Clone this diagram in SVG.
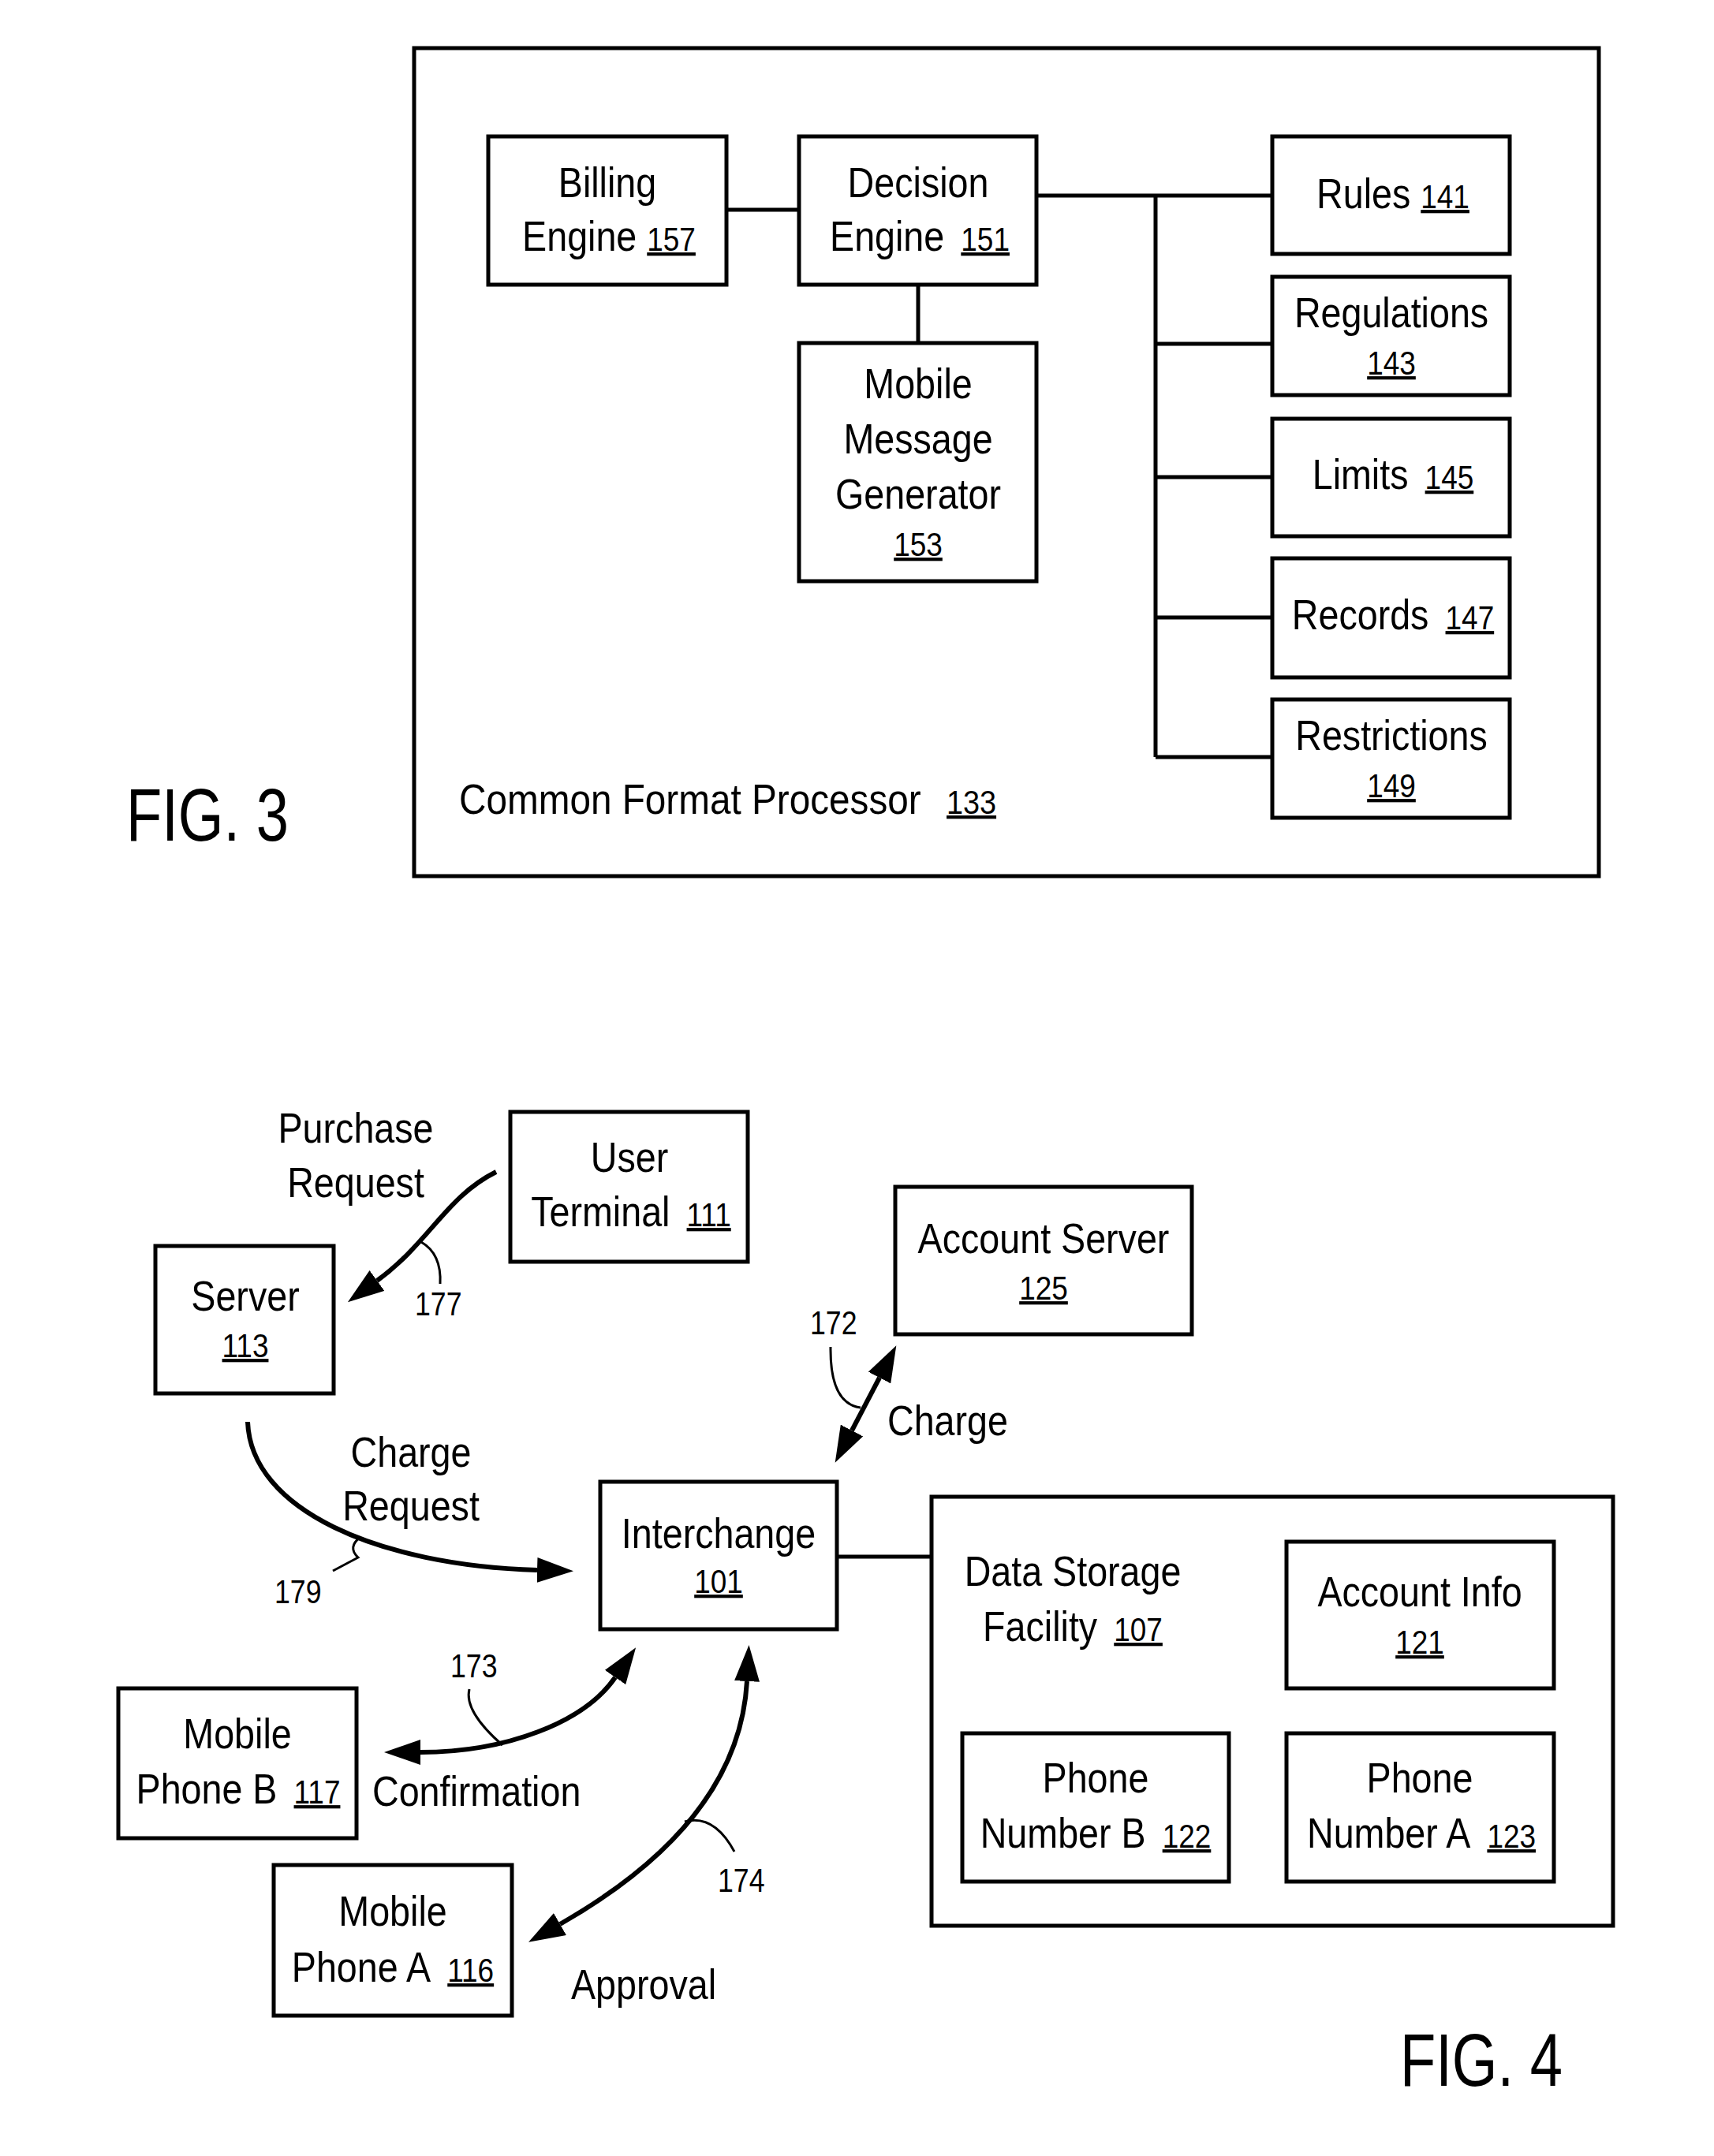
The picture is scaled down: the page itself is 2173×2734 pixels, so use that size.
<svg xmlns="http://www.w3.org/2000/svg" width="2173" height="2734" viewBox="0 0 2173 2734">
<style>
.bx{fill:#fff;stroke:#000;stroke-width:5}
.ln{fill:none;stroke:#000;stroke-width:5}
.ar{fill:none;stroke:#000;stroke-width:6}
.ld{fill:none;stroke:#000;stroke-width:3}
text{font-family:"Liberation Sans",Arial,sans-serif;fill:#000}
.t{font-size:53px;text-anchor:middle}
.s{font-size:53px}
.n{font-size:42px;text-decoration:underline}
.l{font-size:42px}
.fig{font-size:95px}
</style>
<defs>
<marker id="ah" markerUnits="userSpaceOnUse" markerWidth="46" markerHeight="32" refX="0" refY="16" orient="auto-start-reverse" viewBox="0 0 46 32"><path d="M0,0 L46,16 L0,32 z" fill="#000"/></marker>
</defs>
<rect width="2173" height="2734" fill="#fff"/>

<!-- FIG 3 -->
<g id="cfp133">
<rect class="bx" x="525" y="61" width="1502" height="1050"/>
<text class="s" transform="translate(582 1032) scale(.9 1)">Common Format Processor<tspan class="n" dx="36">133</tspan></text>
</g>
<g id="fig3-connectors">
<path class="ln" d="M921,266 H1013 M1164,361 V435 M1314,248 H1613 M1465,248 V960 M1465,436 H1613 M1465,605 H1613 M1465,783 H1613 M1465,960 H1613"/>
</g>
<g id="billing157">
<rect class="bx" x="619" y="173" width="302" height="188"/>
<text class="t" transform="translate(770 250) scale(.88 1)">Billing</text>
<text class="t" transform="translate(772 318) scale(.88 1)">Engine <tspan class="n">157</tspan></text>
</g>
<g id="decision151">
<rect class="bx" x="1013" y="173" width="301" height="188"/>
<text class="t" transform="translate(1164 250) scale(.88 1)">Decision</text>
<text class="t" transform="translate(1166 318) scale(.88 1)">Engine<tspan class="n" dx="24">151</tspan></text>
</g>
<g id="mmg153">
<rect class="bx" x="1013" y="435" width="301" height="302"/>
<text class="t" transform="translate(1164 505) scale(.88 1)">Mobile</text>
<text class="t" transform="translate(1164 575) scale(.88 1)">Message</text>
<text class="t" transform="translate(1164 645) scale(.88 1)">Generator</text>
<text class="t n" transform="translate(1164 705) scale(.88 1)">153</text>
</g>
<g id="rules141">
<rect class="bx" x="1613" y="173" width="301" height="149"/>
<text class="t" transform="translate(1766 264) scale(.88 1)">Rules <tspan class="n">141</tspan></text>
</g>
<g id="regulations143">
<rect class="bx" x="1613" y="351" width="301" height="150"/>
<text class="t" transform="translate(1764 415) scale(.88 1)">Regulations</text>
<text class="t n" transform="translate(1764 475) scale(.88 1)">143</text>
</g>
<g id="limits145">
<rect class="bx" x="1613" y="531" width="301" height="149"/>
<text class="t" transform="translate(1766 620) scale(.88 1)">Limits<tspan class="n" dx="24">145</tspan></text>
</g>
<g id="records147">
<rect class="bx" x="1613" y="708" width="301" height="151"/>
<text class="t" transform="translate(1766 798) scale(.88 1)">Records<tspan class="n" dx="24">147</tspan></text>
</g>
<g id="restrictions149">
<rect class="bx" x="1613" y="887" width="301" height="150"/>
<text class="t" transform="translate(1764 951) scale(.88 1)">Restrictions</text>
<text class="t n" transform="translate(1764 1011) scale(.88 1)">149</text>
</g>
<text class="fig" transform="translate(160 1066) scale(.78 1)">FIG. 3</text>

<!-- FIG 4 connectors -->
<g id="fig4-connectors">
<path class="ln" d="M1061,1974 H1181 M1800,2141 V2198 M1558,2292 H1631"/>
<path class="ar" d="M629,1486 C565,1518 545,1575 478,1624" marker-end="url(#ah)"/>
<path class="ar" d="M314,1803 C318,1915 480,1985 681,1991" marker-end="url(#ah)"/>
<path class="ar" d="M1080,1814 L1115,1747" marker-start="url(#ah)" marker-end="url(#ah)"/>
<path class="ar" d="M533,2222 C640,2222 740,2185 780,2127" marker-start="url(#ah)" marker-end="url(#ah)"/>
<path class="ar" d="M947,2132 C940,2260 850,2360 710,2440" marker-start="url(#ah)" marker-end="url(#ah)"/>
<path class="ld" d="M534,1575 Q560,1590 558,1628"/>
<path class="ld" d="M457,1949 Q440,1962 454,1975 L422,1992"/>
<path class="ld" d="M637,2213 Q588,2170 595,2142"/>
<path class="ld" d="M868,2310 Q905,2300 931,2348"/>
<path class="ld" d="M1053,1708 Q1052,1780 1091,1785"/>
</g>
<g id="labels">
<text class="t" transform="translate(451 1449) scale(.88 1)">Purchase</text>
<text class="t" transform="translate(451 1518) scale(.88 1)">Request</text>
<text class="l" transform="translate(526 1668) scale(.85 1)">177</text>
<text class="l" transform="translate(1027 1692) scale(.85 1)">172</text>
<text class="s" transform="translate(1125 1820) scale(.88 1)">Charge</text>
<text class="t" transform="translate(521 1860) scale(.88 1)">Charge</text>
<text class="t" transform="translate(521 1928) scale(.88 1)">Request</text>
<text class="l" transform="translate(348 2033) scale(.85 1)">179</text>
<text class="l" transform="translate(571 2127) scale(.85 1)">173</text>
<text class="s" transform="translate(472 2290) scale(.88 1)">Confirmation</text>
<text class="l" transform="translate(910 2399) scale(.85 1)">174</text>
<text class="s" transform="translate(724 2535) scale(.88 1)">Approval</text>
</g>
<g id="userterminal111">
<rect class="bx" x="647" y="1410" width="301" height="190"/>
<text class="t" transform="translate(798 1486) scale(.88 1)">User</text>
<text class="t" transform="translate(800 1555) scale(.88 1)">Terminal<tspan class="n" dx="24">111</tspan></text>
</g>
<g id="server113">
<rect class="bx" x="197" y="1580" width="226" height="187"/>
<text class="t" transform="translate(311 1662) scale(.88 1)">Server</text>
<text class="t n" transform="translate(311 1721) scale(.88 1)">113</text>
</g>
<g id="accountserver125">
<rect class="bx" x="1135" y="1505" width="376" height="187"/>
<text class="t" transform="translate(1323 1589) scale(.88 1)">Account Server</text>
<text class="t n" transform="translate(1323 1648) scale(.88 1)">125</text>
</g>
<g id="interchange101">
<rect class="bx" x="761" y="1879" width="300" height="187"/>
<text class="t" transform="translate(911 1963) scale(.88 1)">Interchange</text>
<text class="t n" transform="translate(911 2020) scale(.88 1)">101</text>
</g>
<g id="datastorage107">
<rect class="bx" x="1181" y="1898" width="864" height="544"/>
<text class="t" transform="translate(1360 2011) scale(.88 1)">Data Storage</text>
<text class="t" transform="translate(1360 2081) scale(.88 1)">Facility<tspan class="n" dx="24">107</tspan></text>
</g>
<g id="accountinfo121">
<rect class="bx" x="1631" y="1955" width="339" height="186"/>
<text class="t" transform="translate(1800 2037) scale(.88 1)">Account Info</text>
<text class="t n" transform="translate(1800 2097) scale(.88 1)">121</text>
</g>
<g id="phonenumberb122">
<rect class="bx" x="1220" y="2198" width="338" height="188"/>
<text class="t" transform="translate(1389 2273) scale(.88 1)">Phone</text>
<text class="t" transform="translate(1389 2343) scale(.88 1)">Number B<tspan class="n" dx="24">122</tspan></text>
</g>
<g id="phonenumbera123">
<rect class="bx" x="1631" y="2198" width="339" height="188"/>
<text class="t" transform="translate(1800 2273) scale(.88 1)">Phone</text>
<text class="t" transform="translate(1802 2343) scale(.88 1)">Number A<tspan class="n" dx="24">123</tspan></text>
</g>
<g id="mobilephoneb117">
<rect class="bx" x="150" y="2141" width="302" height="190"/>
<text class="t" transform="translate(301 2217) scale(.88 1)">Mobile</text>
<text class="t" transform="translate(302 2287) scale(.88 1)">Phone B<tspan class="n" dx="24">117</tspan></text>
</g>
<g id="mobilephonea116">
<rect class="bx" x="347" y="2365" width="302" height="191"/>
<text class="t" transform="translate(498 2442) scale(.88 1)">Mobile</text>
<text class="t" transform="translate(498 2513) scale(.88 1)">Phone A<tspan class="n" dx="24">116</tspan></text>
</g>
<text class="fig" transform="translate(1775 2645) scale(.78 1)">FIG. 4</text>
</svg>
